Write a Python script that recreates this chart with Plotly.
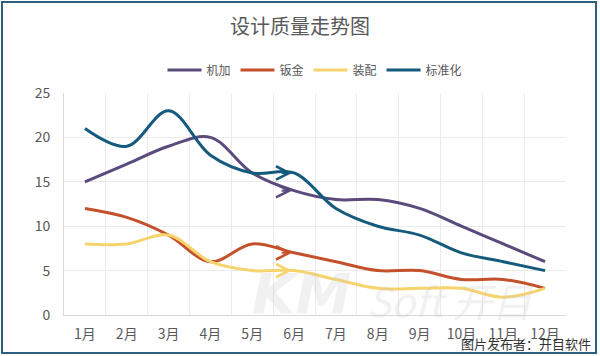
import plotly.graph_objects as go

months = ["1月", "2月", "3月", "4月", "5月", "6月", "7月", "8月", "9月", "10月", "11月", "12月"]
jijia = [15, 17, 19, 20, 16, 14, 13, 13, 12, 10, 8, 6]
banjin = [12, 11, 9, 6, 8, 7, 6, 5, 5, 4, 4, 3]
zhuangpei = [8, 8, 9, 6, 5, 5, 4, 3, 3, 3, 2, 3]
biaozhunhua = [21, 19, 23, 18, 16, 16, 12, 10, 9, 7, 6, 5]
arrow_month = 5  # hand-drawn arrows sit at 6月

series = [
    ("机加", jijia, "#5b4a7c"),
    ("钣金", banjin, "#c4512b"),
    ("装配", zhuangpei, "#f7d36e"),
    ("标准化", biaozhunhua, "#145a7c"),
]

FONT = "Noto Sans CJK SC"
W, H = 600, 356
L, R, T, B = 64, 34, 93, 41
pw, ph = W - L - R, H - T - B

fig = go.Figure()
for name, vals, col in series:
    fig.add_trace(go.Scatter(
        x=months, y=vals, name=name, mode="lines",
        line=dict(color=col, width=3, shape="spline", smoothing=1),
    ))

def px2x(p):
    return (p - L) / pw

def px2y(p):
    return (H - B - p) / ph

fig.update_layout(
    width=W, height=H,
    margin=dict(l=L, r=R, t=T, b=B),
    paper_bgcolor="white", plot_bgcolor="white",
    font=dict(family=FONT, color="#595959"),
    title=dict(text="设计质量走势图", x=0.5, xanchor="center", y=1 - 27 / H, yanchor="middle",
               font=dict(size=20, color="#595959", family=FONT)),
    legend=dict(orientation="h", x=0.5, xanchor="center", y=px2y(70), yanchor="middle",
                font=dict(size=12, color="#595959", family=FONT),
                itemwidth=34, tracegroupgap=0, bgcolor="rgba(0,0,0,0)"),
    xaxis=dict(range=[-0.5, 11.5], tickson="boundaries", showgrid=True, gridcolor="#ebebeb",
               ticks="", showline=True, linecolor="#d9d9d9", linewidth=1, ticklabelstandoff=6,
               tickfont=dict(size=14, color="#595959", family=FONT), fixedrange=True),
    yaxis=dict(range=[0, 25], dtick=5, showgrid=True, gridcolor="#ebebeb", zeroline=False,
               showline=True, linecolor="#d9d9d9", linewidth=1, ticks="", ticklabelstandoff=10,
               tickfont=dict(size=14, color="#595959", family=FONT), fixedrange=True),
    showlegend=True,
)

# hand-drawn style open arrowheads at 6月
for name, vals, col in series:
    fig.add_annotation(x=months[arrow_month], y=vals[arrow_month], xref="x", yref="y",
                       ax=-14, ay=0, axref="pixel", ayref="pixel", text="",
                       showarrow=True, arrowhead=5, arrowsize=1.3, arrowwidth=2,
                       arrowcolor=col, standoff=2)

# outer frame
fig.add_shape(type="rect", xref="paper", yref="paper",
              x0=px2x(2), x1=px2x(596), y0=px2y(353), y1=px2y(2),
              line=dict(color="#2e5f7e", width=2), fillcolor="rgba(0,0,0,0)", layer="above")

# faint watermark
fig.add_annotation(xref="paper", yref="paper", x=px2x(250), y=px2y(293), xanchor="left", yanchor="middle",
                   text="<i><b>KM</b></i>", showarrow=False,
                   font=dict(size=56, color="rgba(200,200,200,0.25)", family="DejaVu Sans"))
fig.add_annotation(xref="paper", yref="paper", x=px2x(365), y=px2y(300), xanchor="left", yanchor="middle",
                   text="<i>Soft 开目</i>", showarrow=False,
                   font=dict(size=40, color="rgba(200,200,200,0.25)", family=FONT))

# publisher caption
fig.add_annotation(xref="paper", yref="paper", x=px2x(593), y=px2y(343), xanchor="right", yanchor="middle",
                   text="图片发布者：开目软件", showarrow=False,
                   font=dict(size=13, color="#333333", family=FONT))

fig.write_html("out.html", config={"displayModeBar": False},
               post_script="document.body.style.margin='0';")
